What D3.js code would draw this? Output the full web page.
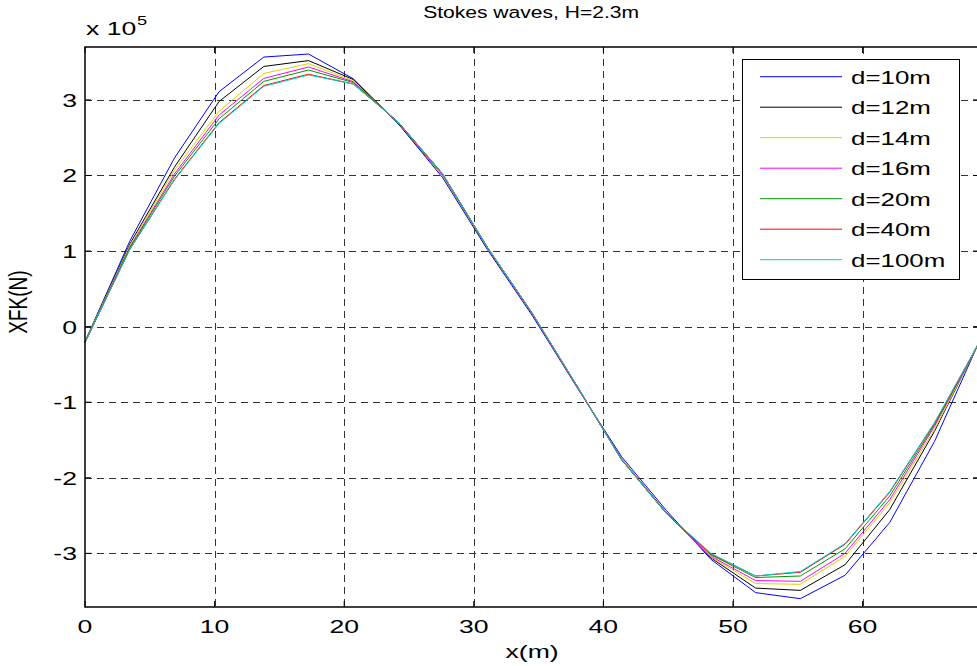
<!DOCTYPE html>
<html>
<head>
<meta charset="utf-8">
<script src="https://cdn.jsdelivr.net/npm/d3@7"></script>
<style>
  body { margin: 0; background: #fff; }
  svg { display: block; }
  text { font-family: "Liberation Sans", Arial, Helvetica, sans-serif; fill: #000; }
</style>
</head>
<body>
<div id="chart"></div>
<script>
// x positions of the samples (m)
const xs = [0, 3.45, 6.9, 10.35, 13.8, 17.25, 20.7, 24.15, 27.6, 31.05, 34.5,
            37.95, 41.4, 44.85, 48.3, 51.75, 55.2, 58.65, 62.1, 65.55, 69];

// XFK in units of 1e5 N, one array per water depth
const d10  = [-0.20, 1.13, 2.23, 3.11, 3.567, 3.607, 3.28, 2.69, 1.97, 1.02, 0.15,
              -0.80, -1.72, -2.43, -3.08, -3.52, -3.60, -3.29, -2.59, -1.52, -0.20];
const d12  = [-0.20, 1.09, 2.11, 2.98, 3.443, 3.52, 3.27, 2.69, 2.00, 1.04, 0.17,
              -0.79, -1.75, -2.46, -3.06, -3.46, -3.49, -3.15, -2.42, -1.385, -0.20];
const d14  = [-0.20, 1.07, 2.07, 2.85, 3.35, 3.48, 3.25, 2.70, 2.00, 1.04, 0.17,
              -0.79, -1.75, -2.47, -3.05, -3.40, -3.41, -3.04, -2.33, -1.36, -0.21];
const d16  = [-0.21, 1.05, 2.02, 2.80, 3.285, 3.435, 3.24, 2.70, 2.01, 1.05, 0.17,
              -0.79, -1.76, -2.47, -3.04, -3.36, -3.37, -3.00, -2.29, -1.32, -0.21];
const d20  = [-0.21, 1.04, 1.99, 2.75, 3.245, 3.395, 3.23, 2.71, 2.02, 1.05, 0.18,
              -0.78, -1.76, -2.47, -3.02, -3.32, -3.30, -2.94, -2.24, -1.30, -0.21];
const d40  = [-0.21, 1.02, 1.95, 2.70, 3.19, 3.34, 3.21, 2.71, 2.02, 1.05, 0.18,
              -0.78, -1.76, -2.47, -3.01, -3.30, -3.25, -2.88, -2.19, -1.28, -0.21];
const d100 = [-0.21, 1.02, 1.94, 2.69, 3.18, 3.33, 3.21, 2.71, 2.02, 1.05, 0.18,
              -0.78, -1.76, -2.47, -3.00, -3.30, -3.24, -2.87, -2.18, -1.27, -0.21];

const seriesNames = ["d=10m", "d=12m", "d=14m", "d=16m", "d=20m", "d=40m", "d=100m"];
const seriesValues = [d10, d12, d14, d16, d20, d40, d100];
const seriesColors = ["#0000ff", "#000000", "#d8d800", "#ff00ff", "#009900", "#ff0000", "#00cccc"];

const xTicks = [0, 10, 20, 30, 40, 50, 60];
const yTicks = [-3, -2, -1, 0, 1, 2, 3];

const width = 977, height = 666;
const margin = { left: 85, top: 47, right: 979.2, bottom: 607 };
const sx = 1.4; // the picture is stretched sideways, so text is too

const x = d3.scaleLinear().domain([0, 69]).range([margin.left, margin.right]);
const y = d3.scaleLinear().domain([-3.71, 3.70]).range([margin.bottom, margin.top]);

const svg = d3.select("#chart").append("svg")
  .attr("width", width)
  .attr("height", height);

// helper for stretched text
function label(g, px, py, str, size, anchor, stretch) {
  return g.append("text")
    .attr("transform", `translate(${px},${py}) scale(${stretch || sx},1)`)
    .attr("font-size", size)
    .attr("text-anchor", anchor || "start")
    .text(str);
}

// grid
const grid = svg.append("g")
  .attr("stroke", "#333")
  .attr("stroke-width", 1)
  .attr("stroke-dasharray", "7,5");
grid.selectAll(".gx").data(xTicks.filter(d => d > 0)).join("line")
  .attr("x1", d => Math.round(x(d)) + 0.5).attr("x2", d => Math.round(x(d)) + 0.5)
  .attr("y1", margin.top).attr("y2", margin.bottom);
grid.selectAll(".gy").data(yTicks).join("line")
  .attr("y1", d => Math.round(y(d)) + 0.5).attr("y2", d => Math.round(y(d)) + 0.5)
  .attr("x1", margin.left).attr("x2", margin.right);

// series
const line = d3.line().x((d, i) => x(xs[i])).y(d => y(d));
svg.append("g")
  .attr("fill", "none")
  .attr("stroke-width", 1)
  .selectAll("path")
  .data(seriesValues)
  .join("path")
  .attr("stroke", (d, i) => seriesColors[i])
  .attr("d", line);

// axes box
const axisG = svg.append("g").attr("stroke", "#000").attr("fill", "none");
axisG.append("rect")
  .attr("x", margin.left).attr("y", margin.top)
  .attr("width", margin.right - margin.left).attr("height", margin.bottom - margin.top)
  .attr("stroke-width", 1.5);

// ticks (inside)
const tl = 6;
xTicks.forEach(t => {
  axisG.append("line").attr("x1", x(t)).attr("x2", x(t)).attr("y1", margin.bottom).attr("y2", margin.bottom - tl);
  axisG.append("line").attr("x1", x(t)).attr("x2", x(t)).attr("y1", margin.top).attr("y2", margin.top + tl);
});
yTicks.forEach(t => {
  axisG.append("line").attr("x1", margin.left).attr("x2", margin.left + tl).attr("y1", y(t)).attr("y2", y(t));
  axisG.append("line").attr("x1", margin.right).attr("x2", margin.right - tl).attr("y1", y(t)).attr("y2", y(t));
});

// tick labels
const tg = svg.append("g");
xTicks.forEach(t => label(tg, x(t), 633, String(t), 19, "middle"));
yTicks.forEach(t => label(tg, 77, y(t) + 7, String(t), 19, "end"));

// exponent
label(tg, 86, 35, "x 10", 19, "start");
label(tg, 137, 25, "5", 13, "start");

// title and axis labels
label(svg, (margin.left + margin.right) / 2 - 1, 18, "Stokes waves, H=2.3m", 17, "middle", 1.24);
label(svg, (margin.left + margin.right) / 2, 658, "x(m)", 19, "middle");
svg.append("text")
  .attr("transform", `translate(27,302) rotate(-90) scale(1,${sx})`)
  .attr("font-size", 19)
  .attr("text-anchor", "middle")
  .text("XFK(N)");

// legend
const lg = svg.append("g");
lg.append("rect")
  .attr("x", 742.5).attr("y", 59.5).attr("width", 217).attr("height", 220)
  .attr("fill", "#fff").attr("stroke", "#000").attr("stroke-width", 1);
seriesNames.forEach((name, i) => {
  const cy = 76.7 + i * 30.5;
  lg.append("line")
    .attr("x1", 760).attr("x2", 842).attr("y1", cy).attr("y2", cy)
    .attr("stroke", seriesColors[i]).attr("stroke-width", 1);
  label(lg, 851, cy + 7, name, 18.5, "start");
});
</script>
</body>
</html>
